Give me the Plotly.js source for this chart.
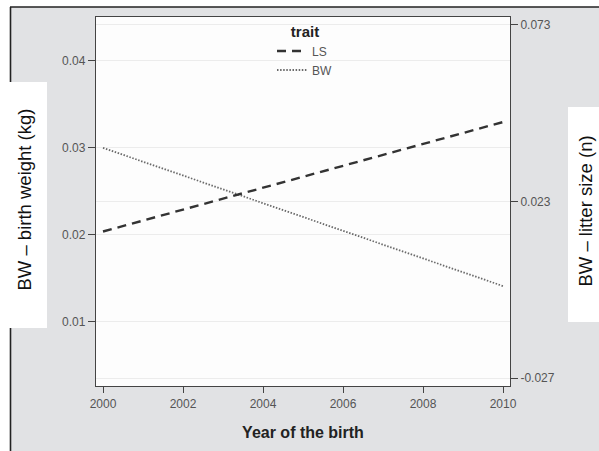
<!DOCTYPE html>
<html>
<head>
<meta charset="utf-8">
<script src="https://cdn.plot.ly/plotly-3.0.1.min.js"></script>
<style>html,body{margin:0;padding:0;background:#fff;}#chart{width:599px;height:451px;}</style>
</head>
<body>
<div id="chart"></div>
<script>
// ---- data ----
var years = [2000, 2010];
var lsValues = [0.0145, 0.0455];   // LS trend (right axis)
var bwValues = [0.0300, 0.0141];   // BW trend (left axis)
var traitNames = ["LS", "BW"];
var xTicks = [2000, 2002, 2004, 2006, 2008, 2010];
var yLeftTicks = [0.01, 0.02, 0.03, 0.04];
var yRightTicks = [-0.027, 0.023, 0.073];
var yRightTickText = ["-0.027", "0.023", "0.073"];

// ---- geometry helpers (pixel -> paper) ----
var W = 599, Hh = 451, mL = 96, mR = 89, mT = 17, mB = 65;
var pw = W - mL - mR, ph = Hh - mT - mB;
function X(px) { return (px - mL) / pw; }
function Y(py) { return (Hh - mB - py) / ph; }

var font = "Liberation Sans, Arial, sans-serif";
var bg = "#e1e2e4";

var traces = [
  {x: years, y: lsValues, name: traitNames[0], mode: "lines", yaxis: "y2",
   line: {color: "#333333", width: 2.4, dash: "9px,6px"}},
  {x: years, y: bwValues, name: traitNames[1], mode: "lines", yaxis: "y",
   line: {color: "#6a6a6a", width: 1.8, dash: "1.5px,1.6px"}}
];

var shapes = [
  // white strips outside the gray panel
  {type: "rect", xref: "paper", yref: "paper", x0: X(-2), x1: X(10), y0: Y(453), y1: Y(-2), fillcolor: "#ffffff", line: {width: 0}, layer: "above"},
  {type: "rect", xref: "paper", yref: "paper", x0: X(-2), x1: X(601), y0: Y(7), y1: Y(-2), fillcolor: "#ffffff", line: {width: 0}, layer: "above"},
  // dark panel borders
  {type: "line", xref: "paper", yref: "paper", x0: X(10), x1: X(601), y0: Y(7), y1: Y(7), line: {color: "#222", width: 1.6}, layer: "above"},
  {type: "line", xref: "paper", yref: "paper", x0: X(10.5), x1: X(10.5), y0: Y(7), y1: Y(453), line: {color: "#222", width: 1.6}, layer: "above"},
  // white boxes behind y titles
  {type: "rect", xref: "paper", yref: "paper", x0: X(-2), x1: X(47), y0: Y(328), y1: Y(82), fillcolor: "#ffffff", line: {width: 0}, layer: "above"},
  {type: "rect", xref: "paper", yref: "paper", x0: X(568), x1: X(601), y0: Y(322), y1: Y(107), fillcolor: "#ffffff", line: {width: 0}, layer: "above"}
];

var layout = {
  width: W, height: Hh,
  margin: {l: mL, r: mR, t: mT, b: mB, pad: 0},
  paper_bgcolor: bg,
  plot_bgcolor: "#fdfdfd",
  font: {family: font, color: "#555"},
  showlegend: true,
  legend: {
    x: X(305), y: Y(17), xanchor: "center", yanchor: "top",
    bgcolor: "rgba(0,0,0,0)",
    font: {size: 12, color: "#555", family: font},
    title: {text: "<b>trait</b>", side: "top center", font: {size: 15, color: "#222", family: font}},
    tracegroupgap: 0, itemwidth: 30
  },
  xaxis: {
    range: [1999.825, 2010.175],
    tickvals: xTicks, ticktext: xTicks.map(String),
    ticks: "outside", ticklen: 6, tickwidth: 1, tickcolor: "#444",
    tickfont: {size: 12, color: "#555"},
    showgrid: false, zeroline: false,
    showline: true, linecolor: "#444", linewidth: 1.2, mirror: true,
    title: {text: "<b>Year of the birth</b>", font: {size: 16, color: "#222"}, standoff: 17}
  },
  yaxis: {
    range: [0.0026, 0.04506],
    tickvals: yLeftTicks, tickformat: ".2f",
    ticks: "outside", ticklen: 7, tickwidth: 1, tickcolor: "#444",
    tickfont: {size: 12, color: "#555"},
    showgrid: true, gridcolor: "#ececec", gridwidth: 1, zeroline: false,
    showline: true, linecolor: "#444", linewidth: 1.2, mirror: true
  },
  yaxis2: {
    overlaying: "y", side: "right",
    range: [-0.02926, 0.07526],
    tickvals: yRightTicks, ticktext: yRightTickText,
    ticks: "outside", ticklen: 7, tickwidth: 1, tickcolor: "#444",
    tickfont: {size: 12, color: "#555"},
    showgrid: true, gridcolor: "#ececec", gridwidth: 1, zeroline: false,
    showline: false
  },
  shapes: shapes,
  annotations: [
    {text: "BW – birth weight (kg)", xref: "paper", yref: "paper", x: X(23.5), y: Y(200),
     xanchor: "center", yanchor: "middle", textangle: -90, showarrow: false,
     font: {size: 18.5, color: "#111", family: font}},
    {text: "BW – litter size (n)", xref: "paper", yref: "paper", x: X(584.5), y: Y(211),
     xanchor: "center", yanchor: "middle", textangle: -90, showarrow: false,
     font: {size: 18.5, color: "#111", family: font}}
  ]
};

Plotly.newPlot("chart", traces, layout, {displayModeBar: false, staticPlot: true});
</script>
</body>
</html>
